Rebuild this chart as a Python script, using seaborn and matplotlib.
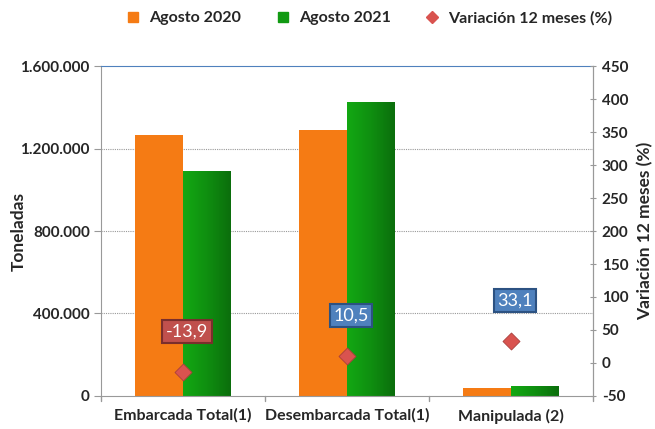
import numpy as np
import pandas as pd
import matplotlib.pyplot as plt
from matplotlib.colors import LinearSegmentedColormap
import seaborn as sns

categorias = ['Embarcada Total(1)', 'Desembarcada Total(1)', 'Manipulada (2)']
agosto_2020 = [1265000, 1290000, 36500]
agosto_2021 = [1089000, 1425000, 48600]
variacion = [-13.9, 10.5, 33.1]
etiquetas_var = ['-13,9', '10,5', '33,1']

df = pd.DataFrame({
    'categoria': categorias * 2,
    'toneladas': agosto_2020 + agosto_2021,
    'periodo': ['Agosto 2020'] * 3 + ['Agosto 2021'] * 3,
})

sns.set_style('white')
plt.rcParams['font.family'] = ['Lato', 'DejaVu Sans']

colores = {'Agosto 2020': '#F57B14', 'Agosto 2021': '#119A12'}

fig = plt.figure(figsize=(6.55, 4.29), dpi=100)
ax = fig.add_axes([0.154, 0.077, 0.751, 0.769])
sns.barplot(data=df, x='categoria', y='toneladas', hue='periodo', palette=colores,
            width=0.58, saturation=1, linewidth=0, ax=ax, legend=False)

# degradado horizontal en las barras verdes (como en el original)
verde = LinearSegmentedColormap.from_list('verde', ['#13A813', '#0F8F10', '#0B6E0C'])
for p in ax.patches[3:6]:
    x0, y0 = p.get_x(), p.get_y()
    w, h = p.get_width(), p.get_height()
    im = ax.imshow(np.linspace(0, 1, 64).reshape(1, -1), cmap=verde, aspect='auto',
                   extent=[x0, x0 + w, y0, y0 + h], zorder=p.get_zorder() + 0.1)
    im.set_clip_path(p)

ax.set_ylim(0, 1600000)
ax.set_yticks([0, 400000, 800000, 1200000, 1600000])
ax.set_yticklabels(['0', '400.000', '800.000', '1.200.000', '1.600.000'],
                   fontsize=11, fontweight='bold')
ax.set_xlim(-0.5, 2.5)
ax.set_xlabel('')
ax.set_ylabel('Toneladas', fontsize=12.5, fontweight='bold')
ax.yaxis.set_label_coords(-0.15, 0.5)
ax.tick_params(axis='x', length=0, pad=9, labelsize=11.5)
for lab in ax.get_xticklabels():
    lab.set_fontweight('bold')
ax.tick_params(axis='y', length=5, direction='out', color='#999999', pad=3)
for y in [400000, 800000, 1200000]:
    ax.axhline(y, color='#999999', linestyle=(0, (1, 1)), linewidth=0.8, zorder=0)
for x in [-0.5, 0.5, 1.5, 2.5]:
    ax.plot([x, x], [0, -22000], color='#999999', linewidth=1, clip_on=False)
for side in ['left', 'bottom', 'right']:
    ax.spines[side].set_color('#999999')
ax.spines['top'].set_color('#4F81BD')

ax2 = ax.twinx()
ax2.set_ylim(-50, 450)
ax2.set_yticks(range(-50, 451, 50))
ax2.set_yticklabels([str(v) for v in range(-50, 451, 50)], fontsize=11, fontweight='bold')
ax2.tick_params(axis='y', length=5, direction='inout', color='#999999', pad=4)
ax2.set_ylabel('Variación 12 meses (%)', fontsize=12.5, fontweight='bold', labelpad=6)
for sp in ax2.spines.values():
    sp.set_visible(False)
ax2.spines['right'].set_visible(True)
ax2.spines['right'].set_color('#999999')

sns.scatterplot(x=[0, 1, 2], y=variacion, marker='D', s=75, color='#D9534F',
                edgecolor='#A93F3C', linewidth=0.6, ax=ax2, zorder=5)
for i, (v, txt) in enumerate(zip(variacion, etiquetas_var)):
    fc = '#C0504D' if v < 0 else '#4F81BD'
    ec = '#7A2E2C' if v < 0 else '#2C5282'
    ax2.annotate(txt, (i, v), xytext=(3, 29), textcoords='offset points',
                 ha='center', va='center', color='white', fontsize=13,
                 bbox=dict(boxstyle='square,pad=0.2', fc=fc, ec=ec, lw=1.5))

handles = [
    plt.Line2D([], [], marker='s', linestyle='', color='#F57B14', markersize=7),
    plt.Line2D([], [], marker='s', linestyle='', color='#119A12', markersize=7),
    plt.Line2D([], [], marker='D', linestyle='', color='#D9534F', markersize=6),
]
leg = fig.legend(handles, ['Agosto 2020', 'Agosto 2021', 'Variación 12 meses (%)'],
                 loc='center', bbox_to_anchor=(0.557, 0.958), ncol=3, frameon=False,
                 fontsize=11.5, handletextpad=0.0, columnspacing=1.6)
for t in leg.get_texts():
    t.set_fontweight('bold')

fig.savefig('out.png', dpi=100)
